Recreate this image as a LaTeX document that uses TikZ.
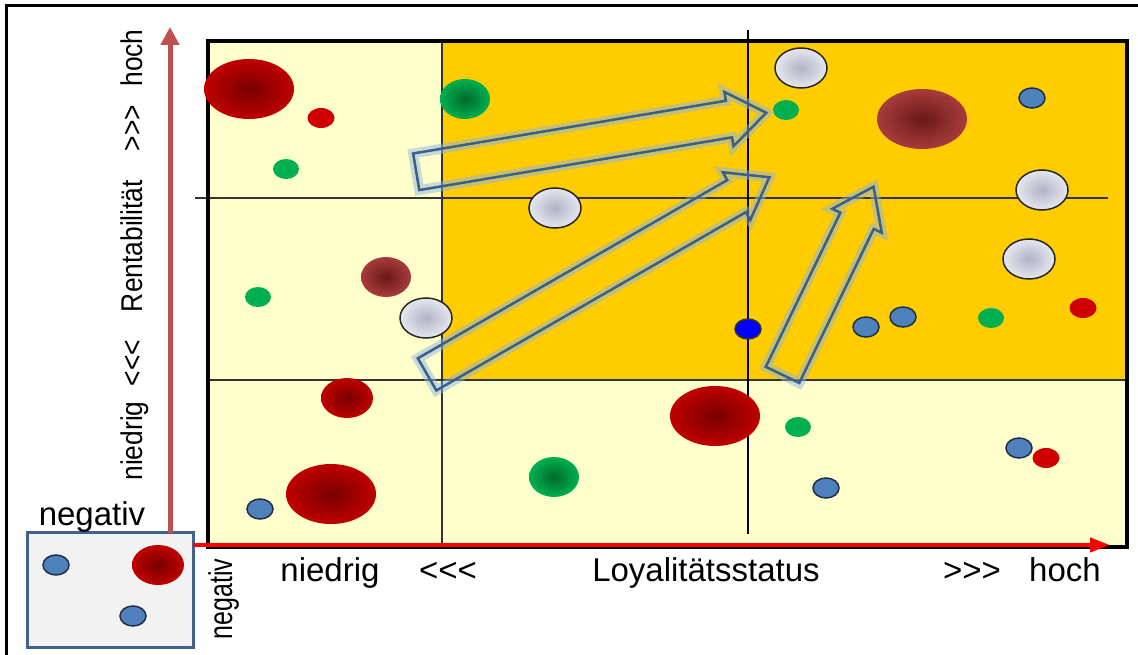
\documentclass[tikz,border=0pt]{standalone}
\usepackage{fontspec}
\setmainfont{Liberation Sans}
\usepackage{tikz}
\usetikzlibrary{shapes.geometric, shapes.arrows, arrows.meta, positioning}

\definecolor{cellyellow}{HTML}{FFFFCC}
\definecolor{cellgold}{HTML}{FFCC00}
\definecolor{axisred}{HTML}{FF0000}
\definecolor{axisrose}{HTML}{C0504D}
\definecolor{redrim}{HTML}{C00000}
\definecolor{redcore}{HTML}{780000}
\definecolor{redsmall}{HTML}{D00000}
\definecolor{maroonrim}{HTML}{A83C3C}
\definecolor{marooncore}{HTML}{6A1818}
\definecolor{greenrim}{HTML}{00B050}
\definecolor{greencore}{HTML}{006A2C}
\definecolor{grayrim}{HTML}{E6E7EE}
\definecolor{graycore}{HTML}{B0B3C6}
\definecolor{dotblue}{HTML}{4F81BD}
\definecolor{dotedge}{HTML}{1F2F4A}
\definecolor{arrowblue}{HTML}{3A5F8C}
\definecolor{glowblue}{HTML}{8FB4DC}
\definecolor{legendfill}{HTML}{F2F2F2}
\definecolor{legendframe}{HTML}{41628F}

\newcommand{\lessrun}{<\kern0pt<\kern0pt<}
\newcommand{\morerun}{>\kern0pt>\kern0pt>}

\tikzset{
    bubble/.style={
        ellipse,
        inner sep=0pt,
        outer sep=0pt
    },
    bigred/.style={
        bubble,
        minimum width=90pt,
        minimum height=60pt,
        inner color=redcore,
        outer color=redrim
    },
    midred/.style={
        bubble,
        minimum width=52pt,
        minimum height=40pt,
        inner color=redcore,
        outer color=redrim
    },
    smallred/.style={
        bubble,
        minimum width=27pt,
        minimum height=20pt,
        fill=redsmall
    },
    bigmaroon/.style={
        bubble,
        minimum width=90pt,
        minimum height=60pt,
        inner color=marooncore,
        outer color=maroonrim
    },
    midmaroon/.style={
        bubble,
        minimum width=50pt,
        minimum height=40pt,
        inner color=marooncore,
        outer color=maroonrim
    },
    midgreen/.style={
        bubble,
        minimum width=50pt,
        minimum height=40pt,
        inner color=greencore,
        outer color=greenrim
    },
    smallgreen/.style={
        bubble,
        minimum width=26pt,
        minimum height=20pt,
        fill=greenrim
    },
    grayball/.style={
        bubble,
        minimum width=52pt,
        minimum height=40pt,
        draw=black!85,
        line width=1.5pt,
        inner color=graycore,
        outer color=grayrim
    },
    blueball/.style={
        bubble,
        minimum width=26pt,
        minimum height=20pt,
        draw=dotedge,
        line width=1.5pt,
        fill=dotblue
    },
    darkblueball/.style={
        bubble,
        minimum width=26pt,
        minimum height=20pt,
        draw=black!80,
        line width=1.5pt,
        fill=blue
    },
    flow/.style={
        single arrow,
        draw=arrowblue,
        line width=2.5pt,
        text height=27pt,
        text depth=0pt,
        text width=0pt,
        minimum width=55pt,
        single arrow tip angle=72,
        inner sep=0pt,
        anchor=tail,
        preaction={draw=glowblue, line width=10pt, opacity=0.5}
    },
    gridline/.style={
        draw=black!80,
        line width=1.5pt
    },
    axislabel/.style={
        font=\fontsize{33}{38}\selectfont,
        inner sep=0pt,
        anchor=base
    },
    sidelabel/.style={
        font=\fontsize{30}{36}\selectfont,
        inner sep=0pt,
        anchor=base,
        rotate=90,
        xscale=0.88
    },
    legendbox/.style={
        rectangle,
        draw=legendframe,
        line width=3pt,
        fill=legendfill,
        minimum width=166pt,
        minimum height=115pt
    }
}

\begin{document}
\begin{tikzpicture}[x=1pt, y=-1pt]
\useasboundingbox (0,0) rectangle (1138,655);

% Frame
\draw[line width=3pt] (6,655) -- (6,6) -- (1138,6);

% Portfolio cells
\fill[cellyellow] (208,41) rectangle (1127,547);
\fill[cellgold] (442,41) rectangle (1127,380);
\draw[gridline, line width=1.2pt] (195,198) -- (1108,198);
\draw[gridline] (208,380) -- (1127,380);
\draw[gridline] (442,41) -- (442,547);
\draw[black, line width=2.5pt] (748,30) -- (748,534);
\draw[line width=4pt] (208,41) rectangle (1127,547);

% Customers, low loyalty
\node[bigred] (red_tl) at (249,89) {};
\node[smallred] (red_tl_s) at (321,118) {};
\node[smallgreen] (green_tl) at (286,169) {};
\node[midmaroon] (maroon_l) at (386,277) {};
\node[smallgreen] (green_l) at (258,297) {};
\node[grayball] (gray_l) at (426,318) {};
\node[midred] (red_bl) at (347,398) {};
\node[bigred] (red_bl_b) at (331,494) {};
\node[blueball] (blue_bl) at (260,509) {};

% Customers, middle loyalty
\node[midgreen] (green_tm) at (465,99) {};
\node[grayball] (gray_tm) at (555,208) {};
\node[darkblueball] (blue_mid) at (748,329) {};
\node[midgreen] (green_bm) at (554,477) {};
\node[bigred] (red_bm) at (715,416) {};

% Customers, high loyalty
\node[grayball] (gray_tr1) at (801,68) {};
\node[smallgreen] (green_tr1) at (786,110) {};
\node[bigmaroon] (maroon_tr) at (922,119) {};
\node[blueball] (blue_tr1) at (1032,98) {};
\node[grayball] (gray_tr2) at (1042,190) {};
\node[grayball] (gray_tr3) at (1029,259) {};
\node[blueball] (blue_tr2) at (866,327) {};
\node[blueball] (blue_tr3) at (903,317) {};
\node[smallgreen] (green_tr2) at (991,318) {};
\node[smallred] (red_tr) at (1083,308) {};
\node[smallgreen] (green_br) at (798,427) {};
\node[blueball] (blue_br1) at (826,488) {};
\node[blueball] (blue_br2) at (1019,448) {};
\node[smallred] (red_br) at (1046,458) {};

% Development arrows
\node[flow, rotate=9.57, minimum height=355pt] (move_top) at (415,172) {};
\node[flow, rotate=29.94, minimum height=395pt] (move_mid) at (426,375) {};
\node[flow, rotate=64.2, minimum height=209pt] (move_right) at (782,376) {};

% Legend
\node[legendbox] (legend) at (110,590) {};
\node[blueball] (legend_blue1) at (56,565) {};
\node[midred] (legend_red) at (158,565) {};
\node[blueball] (legend_blue2) at (133,616) {};
\node[axislabel] (neg_top) at (92,525) {negativ};
\node[sidelabel, font=\fontsize{33}{38}\selectfont, xscale=0.86] (neg_side) at (232,599) {negativ};

% Axes
\coordinate (yaxis_start) at (170,533);
\coordinate (yaxis_end) at (170,27);
\coordinate (xaxis_start) at (193,545);
\coordinate (xaxis_end) at (1110,545);
\draw[axisrose, line width=5pt, -{Triangle[length=18pt, width=18pt]}] (yaxis_start) -- (yaxis_end);
\draw[axisred, line width=4pt, -{Triangle[length=20pt, width=14pt]}] (xaxis_start) -- (xaxis_end);

% Axis labels
\node[axislabel] (x_low) at (330,581) {niedrig};
\node[axislabel] (x_less) at (448,581) {\lessrun};
\node[axislabel] (x_title) at (706,581) {Loyalitätsstatus};
\node[axislabel] (x_more) at (972,581) {\morerun};
\node[axislabel] (x_high) at (1065,581) {hoch};
\node[sidelabel] (y_low) at (142,441) {niedrig};
\node[sidelabel] (y_less) at (142,363) {\lessrun};
\node[sidelabel] (y_title) at (142,246) {Rentabilität};
\node[sidelabel] (y_more) at (142,128) {\morerun};
\node[sidelabel] (y_high) at (142,58) {hoch};

\end{tikzpicture}
\end{document}
